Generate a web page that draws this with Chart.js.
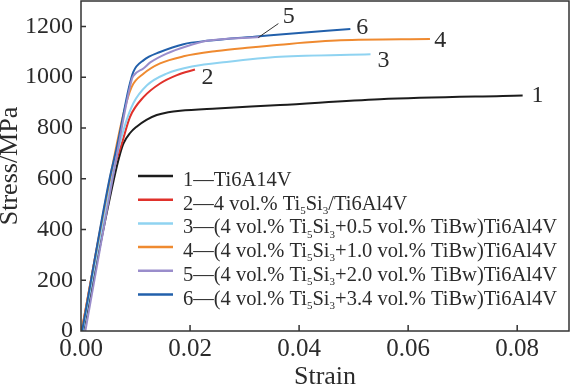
<!DOCTYPE html>
<html>
<head>
<meta charset="utf-8">
<script src="https://cdn.jsdelivr.net/npm/chart.js@4"></script>
<style>
  html, body { margin: 0; padding: 0; background: #fff; }
  canvas { display: block; }
</style>
</head>
<body>
<canvas id="chart" width="572" height="386"></canvas>
<script>
'use strict';
// curves: [strain, stress MPa]
var curve1 = [[0.0004, 0], [0.006, 595], [0.0072, 700], [0.0078, 739], [0.009, 780], [0.0102, 805], [0.012, 832], [0.0139, 851], [0.016, 862], [0.0182, 868], [0.0249, 877], [0.0365, 890], [0.0548, 913], [0.081, 928]];
var curve2 = [[0.0001, 0], [0.0055, 600], [0.0075, 739], [0.009, 844], [0.0115, 922], [0.0145, 975], [0.0176, 1008], [0.0209, 1030]];
var curve3 = [[0.0003, 0], [0.0056, 600], [0.0078, 792], [0.0096, 897], [0.0121, 968], [0.0157, 1014], [0.0206, 1043], [0.0267, 1060], [0.0365, 1080], [0.0531, 1090]];
var curve4 = [[0.0001, 0], [0.0053, 600], [0.0078, 857], [0.0093, 962], [0.0115, 1014], [0.0145, 1054], [0.0188, 1082], [0.0249, 1103], [0.031, 1117], [0.0365, 1128], [0.0476, 1145], [0.064, 1150]];
var curve5 = [[0.0008, 0], [0.0058, 600], [0.0093, 990], [0.0096, 1005], [0.0115, 1035], [0.0127, 1058], [0.0157, 1093], [0.0194, 1122], [0.0231, 1143], [0.0328, 1158]];
var curve6 = [[0.0002, 0], [0.0052, 596], [0.0066, 726], [0.0088, 960], [0.0096, 1021], [0.0115, 1067], [0.0145, 1099], [0.0188, 1130], [0.0231, 1143], [0.0328, 1161], [0.0365, 1168], [0.0494, 1190]];

var legendLabels = [
    '1—Ti6A14V',
    '2—4 vol.% Ti_5Si_3/Ti6Al4V',
    '3—(4 vol.% Ti_5Si_3+0.5 vol.% TiBw)Ti6Al4V',
    '4—(4 vol.% Ti_5Si_3+1.0 vol.% TiBw)Ti6Al4V',
    '5—(4 vol.% Ti_5Si_3+2.0 vol.% TiBw)Ti6Al4V',
    '6—(4 vol.% Ti_5Si_3+3.4 vol.% TiBw)Ti6Al4V'
];
var colors = ['#1c1c1c', '#e0312b', '#8fd3f1', '#ef8a30', '#9a8dcb', '#2260ab'];
// draw order, lowest on top (purple sits over blue where they meet)
var drawOrder = [6, 5, 4, 3, 1, 2];

var xTicks = [0, 0.02, 0.04, 0.06, 0.08];
var yTicks = [0, 200, 400, 600, 800, 1000, 1200];

// number tags next to the curve ends, and the leader line for "5"
var curveTags = [
    { text: '1', x: 0.0837, y: 925 },
    { text: '2', x: 0.0232, y: 998 },
    { text: '3', x: 0.0555, y: 1063 },
    { text: '4', x: 0.0659, y: 1145 },
    { text: '5', x: 0.0381, y: 1240 },
    { text: '6', x: 0.0516, y: 1196 }
];
var leader5 = [[0.0362, 1211], [0.0325, 1156]];

var SERIF = '"Liberation Serif", "Times New Roman", serif';
var INK = '#2b2b2b';

function toPoints(arr) {
    return arr.map(function (p) { return { x: p[0], y: p[1] }; });
}

// draws text where "_5" means a subscript 5
function drawRich(ctx, text, x, y, size) {
    var parts = text.split(/(_\d)/);
    for (var i = 0; i < parts.length; i++) {
        var part = parts[i];
        if (!part) continue;
        if (part.charAt(0) === '_') {
            ctx.font = Math.round(size * 0.55) + 'px ' + SERIF;
            ctx.fillText(part.charAt(1), x, y + size * 0.2);
            x += ctx.measureText(part.charAt(1)).width;
        } else {
            ctx.font = size + 'px ' + SERIF;
            ctx.fillText(part, x, y);
            x += ctx.measureText(part).width;
        }
    }
}

var framePlugin = {
    id: 'frame',
    afterDraw: function (chart) {
        var ctx = chart.ctx;
        var a = chart.chartArea;
        var xs = chart.scales.x, ys = chart.scales.y;
        ctx.save();
        ctx.strokeStyle = '#333';
        ctx.lineWidth = 1.5;
        ctx.strokeRect(a.left, a.top, a.right - a.left, a.bottom - a.top);
        // inward ticks
        ctx.beginPath();
        xTicks.forEach(function (v) {
            if (v === 0) return;
            var px = xs.getPixelForValue(v);
            ctx.moveTo(px, a.bottom);
            ctx.lineTo(px, a.bottom - 6);
        });
        yTicks.forEach(function (v) {
            if (v === 0) return;
            var py = ys.getPixelForValue(v);
            ctx.moveTo(a.left, py);
            ctx.lineTo(a.left + 5, py);
        });
        ctx.stroke();

        // curve numbers
        ctx.fillStyle = INK;
        ctx.font = '24px ' + SERIF;
        ctx.textAlign = 'center';
        ctx.textBaseline = 'middle';
        curveTags.forEach(function (t) {
            ctx.fillText(t.text, xs.getPixelForValue(t.x), ys.getPixelForValue(t.y));
        });
        ctx.lineWidth = 1;
        ctx.beginPath();
        ctx.moveTo(xs.getPixelForValue(leader5[0][0]), ys.getPixelForValue(leader5[0][1]));
        ctx.lineTo(xs.getPixelForValue(leader5[1][0]), ys.getPixelForValue(leader5[1][1]));
        ctx.stroke();

        // legend
        ctx.textAlign = 'left';
        ctx.textBaseline = 'alphabetic';
        for (var i = 0; i < legendLabels.length; i++) {
            var ly = 176 + i * 23.7;
            ctx.strokeStyle = colors[i];
            ctx.lineWidth = 2.5;
            ctx.beginPath();
            ctx.moveTo(138, ly);
            ctx.lineTo(173, ly);
            ctx.stroke();
            ctx.fillStyle = INK;
            drawRich(ctx, legendLabels[i], 183, ly + 10, 20.5);
        }
        ctx.restore();
    }
};

var curves = [curve1, curve2, curve3, curve4, curve5, curve6];
var datasets = curves.map(function (c, i) {
    return {
        label: legendLabels[i],
        data: toPoints(c),
        borderColor: colors[i],
        backgroundColor: colors[i],
        borderWidth: 2,
        pointRadius: 0,
        cubicInterpolationMode: 'monotone',
        order: drawOrder[i]
    };
});

new Chart(document.getElementById('chart'), {
    type: 'line',
    data: { datasets: datasets },
    options: {
        responsive: false,
        animation: false,
        layout: { padding: { top: 1, right: 3, left: 0, bottom: 0 } },
        plugins: { legend: { display: false }, tooltip: { enabled: false } },
        scales: {
            x: {
                type: 'linear',
                min: 0,
                max: 0.0895,
                grid: { display: false, drawTicks: false },
                border: { display: false },
                afterBuildTicks: function (s) { s.ticks = xTicks.map(function (v) { return { value: v }; }); },
                afterFit: function (s) { s.height = 55; s.paddingLeft = 0; s.paddingRight = 0; },
                ticks: {
                    font: { family: SERIF, size: 25 },
                    color: INK,
                    padding: 3,
                    maxRotation: 0,
                    autoSkip: false,
                    callback: function (v) { return v.toFixed(2); }
                },
                title: {
                    display: true,
                    text: 'Strain',
                    color: INK,
                    font: { family: SERIF, size: 26, lineHeight: 1 },
                    padding: { top: 0, bottom: -4 }
                }
            },
            y: {
                min: 0,
                max: 1300,
                grid: { display: false, drawTicks: false },
                border: { display: false },
                afterBuildTicks: function (s) { s.ticks = yTicks.map(function (v) { return { value: v }; }); },
                afterFit: function (s) { s.width = 81; s.paddingTop = 0; s.paddingBottom = 0; },
                ticks: {
                    font: { family: SERIF, size: 24 },
                    color: INK,
                    padding: 8,
                    autoSkip: false,
                    callback: function (v) { return String(v); }
                },
                title: {
                    display: true,
                    text: 'Stress/MPa',
                    color: INK,
                    font: { family: SERIF, size: 26, lineHeight: 1 },
                    padding: { top: -3, bottom: 0 }
                }
            }
        }
    },
    plugins: [framePlugin]
});
</script>
</body>
</html>
